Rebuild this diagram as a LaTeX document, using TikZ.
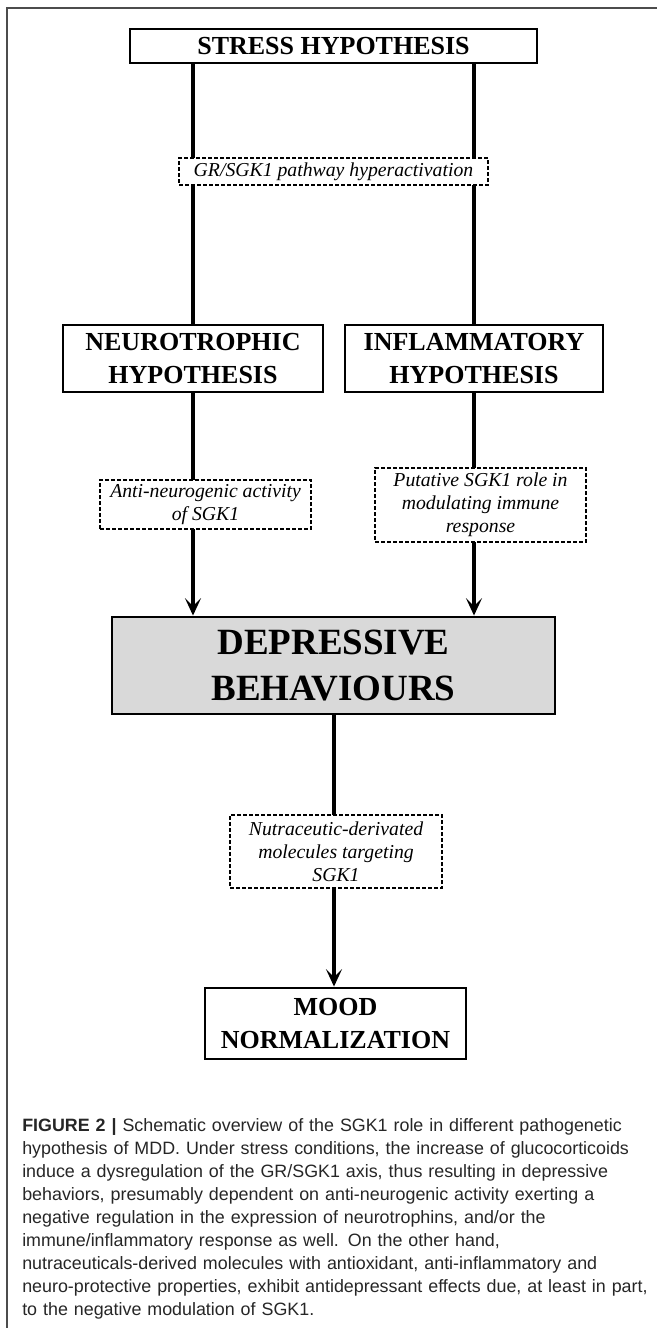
\documentclass[tikz,border=0pt]{standalone}
\usepackage{fontspec}
\setmainfont{Liberation Serif}
\newfontfamily\capfont{Liberation Sans}
\usetikzlibrary{arrows.meta,backgrounds}
\begin{document}
\begin{tikzpicture}[x=0.75pt,y=-0.75pt,
  solidbox/.style={draw, line width=2.2pt, fill=white, align=center, inner sep=0pt},
  labelbox/.style={draw, dashed, dash pattern=on 3pt off 1.5pt, line width=0.9pt, fill=white, align=center, inner sep=0pt},
  bigfont/.style={font=\fontsize{19.5pt}{24.5pt}\selectfont\bfseries},
  itfont/.style={font=\fontsize{14.8pt}{17.25pt}\selectfont\itshape},
  conn/.style={line width=2.4pt},
  arr/.style={conn, -{Stealth[length=13pt,width=12pt,inset=6pt]}},
  frame/.style={draw=black!70, line width=1.2pt}
]
\useasboundingbox (0,0) rectangle (657,1328);
\draw[frame] (7,1328) -- (7,8) -- (657,8);

\coordinate (xl) at (193,0);
\coordinate (xr) at (474,0);
\coordinate (xm) at (334,0);

\node[solidbox, bigfont, minimum width=305.25pt, minimum height=25.5pt] (stress) at (333.5,46) {STRESS HYPOTHESIS};
\node[labelbox, itfont, minimum width=231.75pt, minimum height=20.25pt] (gr) at (333.5,171.5) {GR/SGK1 pathway hyperactivation};
\node[solidbox, bigfont, minimum width=195pt, minimum height=50.25pt] (neuro) at (193,358.5) {NEUROTROPHIC\\HYPOTHESIS};
\node[solidbox, bigfont, minimum width=193.5pt, minimum height=50.25pt] (infl) at (474,358.5) {INFLAMMATORY\\HYPOTHESIS};
\node[labelbox, itfont, minimum width=158.25pt, minimum height=36.75pt] (anti) at (205.5,504.5) {Anti-neurogenic activity\\of SGK1};
\node[labelbox, itfont, minimum width=158.25pt, minimum height=55.5pt] (put) at (480.5,505) {Putative SGK1 role in\\modulating immune\\response};
\node[solidbox, fill=black!15, font=\fontsize{27.75pt}{34.5pt}\selectfont\bfseries, minimum width=332.25pt, minimum height=72.75pt] (dep) at (333.5,665.5) {DEPRESSIVE\\BEHAVIOURS};
\node[labelbox, itfont, minimum width=159pt, minimum height=54.75pt] (nut) at (336,851.5) {Nutraceutic-derivated\\molecules targeting\\SGK1};
\node[solidbox, bigfont, minimum width=195.75pt, minimum height=53.25pt] (mood) at (335.5,1023.5) {MOOD\\NORMALIZATION};

\begin{scope}[on background layer]
\draw[conn] (stress.south -| xl) -- (neuro.north -| xl);
\draw[conn] (stress.south -| xr) -- (infl.north -| xr);
\draw[arr] (neuro.south -| xl) -- (dep.north -| xl);
\draw[arr] (infl.south -| xr) -- (dep.north -| xr);
\draw[arr] (dep.south -| xm) -- (mood.north -| xm);
\end{scope}

\node[anchor=north west, inner sep=0pt, text width=480pt, align=left, text=black!85,
  font=\capfont\fontsize{13.4pt}{17.25pt}\selectfont] (cap) at (22,1118)
{\textbf{FIGURE 2 |} Schematic overview of the SGK1 role in different pathogenetic\\
hypothesis of MDD. Under stress conditions, the increase of glucocorticoids\\
induce a dysregulation of the GR/SGK1 axis, thus resulting in depressive\\
behaviors, presumably dependent on anti-neurogenic activity exerting a\\
negative regulation in the expression of neurotrophins, and/or the\\
immune/inflammatory response as well. On the other hand,\\
nutraceuticals-derived molecules with antioxidant, anti-inflammatory and\\
neuro-protective properties, exhibit antidepressant effects due, at least in part,\\
to the negative modulation of SGK1.};
\end{tikzpicture}
\end{document}
